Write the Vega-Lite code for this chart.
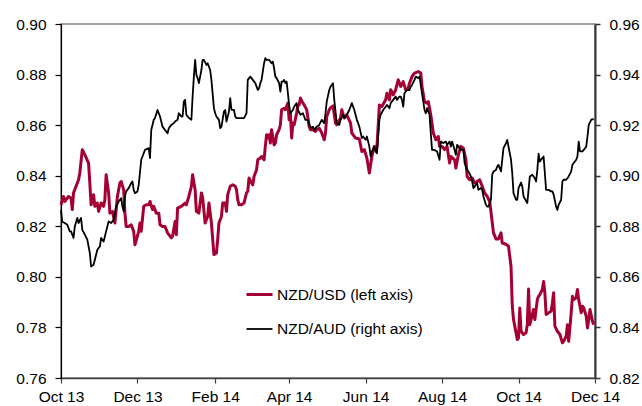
{
  "$schema": "https://vega.github.io/schema/vega-lite/v6.json",
  "width": 534,
  "height": 354,
  "autosize": "none",
  "padding": {"left": 61, "top": 24, "right": 47, "bottom": 28},
  "background": "white",
  "config": {
    "font": "Liberation Sans",
    "view": {"stroke": "#808080", "strokeWidth": 1.5},
    "axis": {"labelFont": "Liberation Sans", "labelFontSize": 15.5, "labelColor": "#000000", "grid": false, "title": null}
  },
  "datasets": {
    "nzdusd": [
      {"date":"2013-10-01","rate":0.8285},{"date":"2013-10-03","rate":0.8318},{"date":"2013-10-04","rate":0.8298},{"date":"2013-10-07","rate":0.8318},{"date":"2013-10-09","rate":0.8312},{"date":"2013-10-10","rate":0.8266},{"date":"2013-10-11","rate":0.8332},{"date":"2013-10-15","rate":0.8384},{"date":"2013-10-16","rate":0.8411},{"date":"2013-10-18","rate":0.8503},{"date":"2013-10-20","rate":0.8483},{"date":"2013-10-23","rate":0.8450},{"date":"2013-10-24","rate":0.8371},{"date":"2013-10-25","rate":0.8285},{"date":"2013-10-27","rate":0.8325},{"date":"2013-10-28","rate":0.8279},{"date":"2013-10-30","rate":0.8292},{"date":"2013-10-31","rate":0.8259},
      {"date":"2013-11-02","rate":0.8292},{"date":"2013-11-04","rate":0.8279},{"date":"2013-11-05","rate":0.8305},{"date":"2013-11-06","rate":0.8404},{"date":"2013-11-08","rate":0.8332},{"date":"2013-11-09","rate":0.8252},{"date":"2013-11-11","rate":0.8259},{"date":"2013-11-13","rate":0.8213},{"date":"2013-11-15","rate":0.8318},{"date":"2013-11-17","rate":0.8371},{"date":"2013-11-18","rate":0.8377},{"date":"2013-11-20","rate":0.8344},{"date":"2013-11-21","rate":0.8252},{"date":"2013-11-22","rate":0.8199},{"date":"2013-11-24","rate":0.8199},{"date":"2013-11-26","rate":0.8206},{"date":"2013-11-28","rate":0.8180},{"date":"2013-11-29","rate":0.8127},
      {"date":"2013-12-02","rate":0.8180},{"date":"2013-12-03","rate":0.8213},{"date":"2013-12-04","rate":0.8180},{"date":"2013-12-06","rate":0.8279},{"date":"2013-12-08","rate":0.8285},{"date":"2013-12-10","rate":0.8285},{"date":"2013-12-11","rate":0.8298},{"date":"2013-12-13","rate":0.8266},{"date":"2013-12-14","rate":0.8279},{"date":"2013-12-16","rate":0.8252},{"date":"2013-12-18","rate":0.8252},{"date":"2013-12-19","rate":0.8206},{"date":"2013-12-21","rate":0.8199},{"date":"2013-12-23","rate":0.8199},{"date":"2013-12-25","rate":0.8174},{"date":"2013-12-28","rate":0.8154},{"date":"2013-12-29","rate":0.8160},{"date":"2013-12-31","rate":0.8219},
      {"date":"2014-01-01","rate":0.8167},{"date":"2014-01-02","rate":0.8272},{"date":"2014-01-05","rate":0.8279},{"date":"2014-01-08","rate":0.8292},{"date":"2014-01-09","rate":0.8285},{"date":"2014-01-11","rate":0.8318},{"date":"2014-01-13","rate":0.8358},{"date":"2014-01-14","rate":0.8404},{"date":"2014-01-16","rate":0.8344},{"date":"2014-01-17","rate":0.8259},{"date":"2014-01-19","rate":0.8252},{"date":"2014-01-21","rate":0.8332},{"date":"2014-01-22","rate":0.8312},{"date":"2014-01-24","rate":0.8213},{"date":"2014-01-26","rate":0.8239},{"date":"2014-01-27","rate":0.8292},{"date":"2014-01-29","rate":0.8213},{"date":"2014-01-31","rate":0.8088},
      {"date":"2014-02-02","rate":0.8094},{"date":"2014-02-03","rate":0.8147},{"date":"2014-02-04","rate":0.8213},{"date":"2014-02-06","rate":0.8239},{"date":"2014-02-07","rate":0.8292},{"date":"2014-02-09","rate":0.8292},{"date":"2014-02-10","rate":0.8259},{"date":"2014-02-11","rate":0.8325},{"date":"2014-02-13","rate":0.8358},{"date":"2014-02-15","rate":0.8364},{"date":"2014-02-17","rate":0.8358},{"date":"2014-02-18","rate":0.8344},{"date":"2014-02-19","rate":0.8305},{"date":"2014-02-20","rate":0.8285},{"date":"2014-02-22","rate":0.8285},{"date":"2014-02-24","rate":0.8292},{"date":"2014-02-26","rate":0.8332},{"date":"2014-02-27","rate":0.8338},{"date":"2014-02-28","rate":0.8391},
      {"date":"2014-03-02","rate":0.8371},{"date":"2014-03-03","rate":0.8364},{"date":"2014-03-04","rate":0.8397},{"date":"2014-03-06","rate":0.8424},{"date":"2014-03-07","rate":0.8463},{"date":"2014-03-09","rate":0.8470},{"date":"2014-03-10","rate":0.8476},{"date":"2014-03-12","rate":0.8463},{"date":"2014-03-13","rate":0.8516},{"date":"2014-03-14","rate":0.8562},{"date":"2014-03-15","rate":0.8549},{"date":"2014-03-16","rate":0.8562},{"date":"2014-03-17","rate":0.8529},{"date":"2014-03-18","rate":0.8582},{"date":"2014-03-20","rate":0.8522},{"date":"2014-03-21","rate":0.8529},{"date":"2014-03-22","rate":0.8562},{"date":"2014-03-24","rate":0.8582},{"date":"2014-03-25","rate":0.8601},{"date":"2014-03-26","rate":0.8661},{"date":"2014-03-28","rate":0.8667},{"date":"2014-03-29","rate":0.8661},{"date":"2014-03-31","rate":0.8687},
      {"date":"2014-04-01","rate":0.8621},{"date":"2014-04-02","rate":0.8648},{"date":"2014-04-03","rate":0.8549},{"date":"2014-04-04","rate":0.8608},{"date":"2014-04-05","rate":0.8601},{"date":"2014-04-07","rate":0.8648},{"date":"2014-04-08","rate":0.8680},{"date":"2014-04-09","rate":0.8680},{"date":"2014-04-10","rate":0.8707},{"date":"2014-04-12","rate":0.8687},{"date":"2014-04-13","rate":0.8680},{"date":"2014-04-15","rate":0.8661},{"date":"2014-04-17","rate":0.8595},{"date":"2014-04-18","rate":0.8582},{"date":"2014-04-20","rate":0.8582},{"date":"2014-04-22","rate":0.8575},{"date":"2014-04-23","rate":0.8582},{"date":"2014-04-25","rate":0.8588},{"date":"2014-04-27","rate":0.8569},{"date":"2014-04-29","rate":0.8542},{"date":"2014-04-30","rate":0.8569},
      {"date":"2014-05-01","rate":0.8634},{"date":"2014-05-03","rate":0.8661},{"date":"2014-05-04","rate":0.8668},{"date":"2014-05-06","rate":0.8676},{"date":"2014-05-08","rate":0.8608},{"date":"2014-05-09","rate":0.8601},{"date":"2014-05-12","rate":0.8628},{"date":"2014-05-13","rate":0.8661},{"date":"2014-05-15","rate":0.8628},{"date":"2014-05-17","rate":0.8641},{"date":"2014-05-20","rate":0.8608},{"date":"2014-05-21","rate":0.8569},{"date":"2014-05-24","rate":0.8549},{"date":"2014-05-27","rate":0.8545},{"date":"2014-05-29","rate":0.8496},{"date":"2014-05-31","rate":0.8503},
      {"date":"2014-06-02","rate":0.8470},{"date":"2014-06-04","rate":0.8411},{"date":"2014-06-06","rate":0.8476},{"date":"2014-06-08","rate":0.8516},{"date":"2014-06-10","rate":0.8509},{"date":"2014-06-12","rate":0.8680},{"date":"2014-06-14","rate":0.8674},{"date":"2014-06-17","rate":0.8700},{"date":"2014-06-18","rate":0.8726},{"date":"2014-06-20","rate":0.8700},{"date":"2014-06-21","rate":0.8740},{"date":"2014-06-23","rate":0.8720},{"date":"2014-06-25","rate":0.8740},{"date":"2014-06-27","rate":0.8779},{"date":"2014-06-29","rate":0.8753},
      {"date":"2014-07-01","rate":0.8772},{"date":"2014-07-03","rate":0.8740},{"date":"2014-07-05","rate":0.8746},{"date":"2014-07-06","rate":0.8766},{"date":"2014-07-08","rate":0.8792},{"date":"2014-07-10","rate":0.8806},{"date":"2014-07-13","rate":0.8812},{"date":"2014-07-15","rate":0.8806},{"date":"2014-07-16","rate":0.8753},{"date":"2014-07-18","rate":0.8693},{"date":"2014-07-20","rate":0.8687},{"date":"2014-07-21","rate":0.8693},{"date":"2014-07-23","rate":0.8641},{"date":"2014-07-25","rate":0.8569},{"date":"2014-07-27","rate":0.8542},{"date":"2014-07-29","rate":0.8555},{"date":"2014-07-30","rate":0.8516},
      {"date":"2014-08-01","rate":0.8516},{"date":"2014-08-03","rate":0.8503},{"date":"2014-08-05","rate":0.8516},{"date":"2014-08-07","rate":0.8450},{"date":"2014-08-08","rate":0.8476},{"date":"2014-08-11","rate":0.8463},{"date":"2014-08-12","rate":0.8430},{"date":"2014-08-14","rate":0.8483},{"date":"2014-08-16","rate":0.8516},{"date":"2014-08-18","rate":0.8509},{"date":"2014-08-20","rate":0.8463},{"date":"2014-08-21","rate":0.8397},{"date":"2014-08-23","rate":0.8384},{"date":"2014-08-25","rate":0.8391},{"date":"2014-08-27","rate":0.8371},{"date":"2014-08-29","rate":0.8377},{"date":"2014-08-31","rate":0.8384},
      {"date":"2014-09-02","rate":0.8358},{"date":"2014-09-04","rate":0.8332},{"date":"2014-09-06","rate":0.8318},{"date":"2014-09-08","rate":0.8298},{"date":"2014-09-09","rate":0.8258},{"date":"2014-09-11","rate":0.8174},{"date":"2014-09-13","rate":0.8150},{"date":"2014-09-15","rate":0.8150},{"date":"2014-09-17","rate":0.8174},{"date":"2014-09-18","rate":0.8134},{"date":"2014-09-21","rate":0.8129},{"date":"2014-09-23","rate":0.8121},{"date":"2014-09-25","rate":0.8042},{"date":"2014-09-26","rate":0.7886},{"date":"2014-09-27","rate":0.7831},{"date":"2014-09-30","rate":0.7752},
      {"date":"2014-10-01","rate":0.7759},{"date":"2014-10-02","rate":0.7877},{"date":"2014-10-03","rate":0.7785},{"date":"2014-10-05","rate":0.7772},{"date":"2014-10-07","rate":0.7779},{"date":"2014-10-08","rate":0.7811},{"date":"2014-10-09","rate":0.7952},{"date":"2014-10-10","rate":0.7811},{"date":"2014-10-11","rate":0.7831},{"date":"2014-10-13","rate":0.7871},{"date":"2014-10-14","rate":0.7831},{"date":"2014-10-16","rate":0.7910},{"date":"2014-10-17","rate":0.7923},{"date":"2014-10-18","rate":0.7930},{"date":"2014-10-20","rate":0.7950},{"date":"2014-10-21","rate":0.7982},{"date":"2014-10-22","rate":0.7937},{"date":"2014-10-23","rate":0.7851},{"date":"2014-10-25","rate":0.7858},{"date":"2014-10-27","rate":0.7864},{"date":"2014-10-28","rate":0.7897},{"date":"2014-10-29","rate":0.7937},{"date":"2014-10-30","rate":0.7805},
      {"date":"2014-11-01","rate":0.7785},{"date":"2014-11-03","rate":0.7772},{"date":"2014-11-05","rate":0.7739},{"date":"2014-11-06","rate":0.7745},{"date":"2014-11-08","rate":0.7765},{"date":"2014-11-09","rate":0.7811},{"date":"2014-11-10","rate":0.7745},{"date":"2014-11-12","rate":0.7858},{"date":"2014-11-13","rate":0.7923},{"date":"2014-11-14","rate":0.7910},{"date":"2014-11-16","rate":0.7917},{"date":"2014-11-17","rate":0.7950},{"date":"2014-11-18","rate":0.7910},{"date":"2014-11-20","rate":0.7858},{"date":"2014-11-21","rate":0.7884},{"date":"2014-11-22","rate":0.7877},{"date":"2014-11-24","rate":0.7844},{"date":"2014-11-25","rate":0.7798},{"date":"2014-11-26","rate":0.7831},{"date":"2014-11-27","rate":0.7871},{"date":"2014-11-29","rate":0.7824},{"date":"2014-11-30","rate":0.7811}
    ],
    "nzdaud": [
      {"date":"2013-10-01","rate":0.8865},{"date":"2013-10-02","rate":0.8818},{"date":"2013-10-04","rate":0.8813},{"date":"2013-10-06","rate":0.8806},{"date":"2013-10-08","rate":0.8780},{"date":"2013-10-09","rate":0.8780},{"date":"2013-10-11","rate":0.8754},{"date":"2013-10-12","rate":0.8799},{"date":"2013-10-14","rate":0.8833},{"date":"2013-10-15","rate":0.8813},{"date":"2013-10-17","rate":0.8833},{"date":"2013-10-18","rate":0.8786},{"date":"2013-10-20","rate":0.8767},{"date":"2013-10-22","rate":0.8747},{"date":"2013-10-24","rate":0.8694},{"date":"2013-10-25","rate":0.8641},{"date":"2013-10-27","rate":0.8648},{"date":"2013-10-28","rate":0.8668},{"date":"2013-10-30","rate":0.8707},
      {"date":"2013-11-01","rate":0.8720},{"date":"2013-11-02","rate":0.8754},{"date":"2013-11-04","rate":0.8740},{"date":"2013-11-05","rate":0.8760},{"date":"2013-11-06","rate":0.8780},{"date":"2013-11-08","rate":0.8819},{"date":"2013-11-10","rate":0.8813},{"date":"2013-11-12","rate":0.8826},{"date":"2013-11-13","rate":0.8852},{"date":"2013-11-14","rate":0.8878},{"date":"2013-11-16","rate":0.8898},{"date":"2013-11-18","rate":0.8911},{"date":"2013-11-19","rate":0.8878},{"date":"2013-11-20","rate":0.8859},{"date":"2013-11-21","rate":0.8918},{"date":"2013-11-22","rate":0.8938},{"date":"2013-11-24","rate":0.8951},{"date":"2013-11-26","rate":0.8971},{"date":"2013-11-27","rate":0.8977},{"date":"2013-11-28","rate":0.8944},{"date":"2013-11-29","rate":0.8931},
      {"date":"2013-12-01","rate":0.8938},{"date":"2013-12-02","rate":0.8964},{"date":"2013-12-04","rate":0.9063},{"date":"2013-12-06","rate":0.9089},{"date":"2013-12-07","rate":0.9102},{"date":"2013-12-10","rate":0.9109},{"date":"2013-12-11","rate":0.9070},{"date":"2013-12-12","rate":0.9181},{"date":"2013-12-14","rate":0.9221},{"date":"2013-12-15","rate":0.9228},{"date":"2013-12-17","rate":0.9260},{"date":"2013-12-19","rate":0.9234},{"date":"2013-12-21","rate":0.9194},{"date":"2013-12-23","rate":0.9181},{"date":"2013-12-25","rate":0.9168},{"date":"2013-12-26","rate":0.9188},{"date":"2013-12-28","rate":0.9201},{"date":"2013-12-30","rate":0.9208},{"date":"2013-12-31","rate":0.9214},
      {"date":"2014-01-02","rate":0.9221},{"date":"2014-01-03","rate":0.9247},{"date":"2014-01-05","rate":0.9234},{"date":"2014-01-06","rate":0.9234},{"date":"2014-01-07","rate":0.9293},{"date":"2014-01-08","rate":0.9300},{"date":"2014-01-09","rate":0.9241},{"date":"2014-01-11","rate":0.9228},{"date":"2014-01-13","rate":0.9221},{"date":"2014-01-14","rate":0.9313},{"date":"2014-01-15","rate":0.9392},{"date":"2014-01-16","rate":0.9458},{"date":"2014-01-17","rate":0.9399},{"date":"2014-01-18","rate":0.9386},{"date":"2014-01-19","rate":0.9366},{"date":"2014-01-21","rate":0.9418},{"date":"2014-01-22","rate":0.9458},{"date":"2014-01-23","rate":0.9458},{"date":"2014-01-25","rate":0.9438},{"date":"2014-01-26","rate":0.9445},{"date":"2014-01-28","rate":0.9418},{"date":"2014-01-29","rate":0.9379},{"date":"2014-01-31","rate":0.9267},
      {"date":"2014-02-01","rate":0.9247},{"date":"2014-02-02","rate":0.9234},{"date":"2014-02-04","rate":0.9221},{"date":"2014-02-05","rate":0.9188},{"date":"2014-02-06","rate":0.9194},{"date":"2014-02-08","rate":0.9254},{"date":"2014-02-09","rate":0.9260},{"date":"2014-02-10","rate":0.9214},{"date":"2014-02-12","rate":0.9254},{"date":"2014-02-13","rate":0.9307},{"date":"2014-02-14","rate":0.9260},{"date":"2014-02-16","rate":0.9260},{"date":"2014-02-17","rate":0.9234},{"date":"2014-02-18","rate":0.9228},{"date":"2014-02-21","rate":0.9228},{"date":"2014-02-24","rate":0.9228},{"date":"2014-02-26","rate":0.9247},{"date":"2014-02-27","rate":0.9379},
      {"date":"2014-03-01","rate":0.9392},{"date":"2014-03-03","rate":0.9379},{"date":"2014-03-05","rate":0.9366},{"date":"2014-03-07","rate":0.9339},{"date":"2014-03-08","rate":0.9346},{"date":"2014-03-09","rate":0.9366},{"date":"2014-03-10","rate":0.9379},{"date":"2014-03-12","rate":0.9445},{"date":"2014-03-13","rate":0.9465},{"date":"2014-03-14","rate":0.9458},{"date":"2014-03-16","rate":0.9458},{"date":"2014-03-18","rate":0.9445},{"date":"2014-03-19","rate":0.9451},{"date":"2014-03-20","rate":0.9425},{"date":"2014-03-21","rate":0.9392},{"date":"2014-03-22","rate":0.9386},{"date":"2014-03-24","rate":0.9366},{"date":"2014-03-25","rate":0.9333},{"date":"2014-03-26","rate":0.9372},{"date":"2014-03-27","rate":0.9372},{"date":"2014-03-28","rate":0.9379},{"date":"2014-03-29","rate":0.9366},{"date":"2014-03-30","rate":0.9372},
      {"date":"2014-04-01","rate":0.9280},{"date":"2014-04-02","rate":0.9247},{"date":"2014-04-04","rate":0.9260},{"date":"2014-04-05","rate":0.9273},{"date":"2014-04-07","rate":0.9287},{"date":"2014-04-08","rate":0.9260},{"date":"2014-04-10","rate":0.9241},{"date":"2014-04-12","rate":0.9247},{"date":"2014-04-14","rate":0.9221},{"date":"2014-04-16","rate":0.9221},{"date":"2014-04-17","rate":0.9201},{"date":"2014-04-19","rate":0.9188},{"date":"2014-04-20","rate":0.9194},{"date":"2014-04-21","rate":0.9181},{"date":"2014-04-23","rate":0.9194},{"date":"2014-04-25","rate":0.9201},{"date":"2014-04-27","rate":0.9221},{"date":"2014-04-29","rate":0.9208},{"date":"2014-04-30","rate":0.9247},
      {"date":"2014-05-01","rate":0.9293},{"date":"2014-05-03","rate":0.9339},{"date":"2014-05-04","rate":0.9352},{"date":"2014-05-06","rate":0.9366},{"date":"2014-05-07","rate":0.9300},{"date":"2014-05-09","rate":0.9208},{"date":"2014-05-11","rate":0.9201},{"date":"2014-05-12","rate":0.9221},{"date":"2014-05-14","rate":0.9241},{"date":"2014-05-15","rate":0.9228},{"date":"2014-05-17","rate":0.9241},{"date":"2014-05-19","rate":0.9260},{"date":"2014-05-21","rate":0.9287},{"date":"2014-05-23","rate":0.9260},{"date":"2014-05-25","rate":0.9221},{"date":"2014-05-27","rate":0.9194},{"date":"2014-05-29","rate":0.9149},{"date":"2014-05-30","rate":0.9155},
      {"date":"2014-06-01","rate":0.9142},{"date":"2014-06-02","rate":0.9155},{"date":"2014-06-04","rate":0.9115},{"date":"2014-06-05","rate":0.9076},{"date":"2014-06-06","rate":0.9096},{"date":"2014-06-08","rate":0.9115},{"date":"2014-06-09","rate":0.9096},{"date":"2014-06-10","rate":0.9089},{"date":"2014-06-12","rate":0.9221},{"date":"2014-06-13","rate":0.9241},{"date":"2014-06-15","rate":0.9260},{"date":"2014-06-17","rate":0.9273},{"date":"2014-06-18","rate":0.9280},{"date":"2014-06-20","rate":0.9267},{"date":"2014-06-21","rate":0.9287},{"date":"2014-06-23","rate":0.9300},{"date":"2014-06-25","rate":0.9313},{"date":"2014-06-26","rate":0.9300},{"date":"2014-06-28","rate":0.9313},{"date":"2014-06-29","rate":0.9313},{"date":"2014-06-30","rate":0.9300},
      {"date":"2014-07-01","rate":0.9273},{"date":"2014-07-02","rate":0.9326},{"date":"2014-07-04","rate":0.9339},{"date":"2014-07-06","rate":0.9339},{"date":"2014-07-07","rate":0.9352},{"date":"2014-07-08","rate":0.9359},{"date":"2014-07-10","rate":0.9379},{"date":"2014-07-11","rate":0.9392},{"date":"2014-07-13","rate":0.9386},{"date":"2014-07-14","rate":0.9392},{"date":"2014-07-16","rate":0.9326},{"date":"2014-07-18","rate":0.9260},{"date":"2014-07-19","rate":0.9247},{"date":"2014-07-20","rate":0.9267},{"date":"2014-07-22","rate":0.9241},{"date":"2014-07-23","rate":0.9168},{"date":"2014-07-24","rate":0.9102},{"date":"2014-07-26","rate":0.9102},{"date":"2014-07-28","rate":0.9096},{"date":"2014-07-30","rate":0.9063},{"date":"2014-07-31","rate":0.9135},
      {"date":"2014-08-02","rate":0.9129},{"date":"2014-08-04","rate":0.9135},{"date":"2014-08-05","rate":0.9122},{"date":"2014-08-07","rate":0.9135},{"date":"2014-08-08","rate":0.9115},{"date":"2014-08-09","rate":0.9135},{"date":"2014-08-11","rate":0.9102},{"date":"2014-08-12","rate":0.9083},{"date":"2014-08-13","rate":0.9122},{"date":"2014-08-15","rate":0.9109},{"date":"2014-08-16","rate":0.9102},{"date":"2014-08-18","rate":0.9102},{"date":"2014-08-19","rate":0.9050},{"date":"2014-08-21","rate":0.9023},{"date":"2014-08-22","rate":0.9017},{"date":"2014-08-24","rate":0.8997},{"date":"2014-08-25","rate":0.8977},{"date":"2014-08-26","rate":0.8951},{"date":"2014-08-28","rate":0.8964},{"date":"2014-08-29","rate":0.8971},{"date":"2014-08-30","rate":0.8944},
      {"date":"2014-09-01","rate":0.8951},{"date":"2014-09-02","rate":0.8944},{"date":"2014-09-03","rate":0.8918},{"date":"2014-09-05","rate":0.8885},{"date":"2014-09-06","rate":0.8878},{"date":"2014-09-07","rate":0.8878},{"date":"2014-09-09","rate":0.8905},{"date":"2014-09-10","rate":0.9004},{"date":"2014-09-11","rate":0.9017},{"date":"2014-09-13","rate":0.9023},{"date":"2014-09-14","rate":0.9036},{"date":"2014-09-15","rate":0.9043},{"date":"2014-09-17","rate":0.9017},{"date":"2014-09-18","rate":0.9063},{"date":"2014-09-19","rate":0.9109},{"date":"2014-09-21","rate":0.9129},{"date":"2014-09-22","rate":0.9142},{"date":"2014-09-23","rate":0.9115},{"date":"2014-09-25","rate":0.9063},{"date":"2014-09-26","rate":0.9010},{"date":"2014-09-27","rate":0.8931},{"date":"2014-09-29","rate":0.8905},{"date":"2014-09-30","rate":0.8905},
      {"date":"2014-10-01","rate":0.8951},{"date":"2014-10-03","rate":0.8973},{"date":"2014-10-04","rate":0.8957},{"date":"2014-10-05","rate":0.8918},{"date":"2014-10-08","rate":0.8892},{"date":"2014-10-09","rate":0.8944},{"date":"2014-10-10","rate":0.8997},{"date":"2014-10-12","rate":0.9004},{"date":"2014-10-14","rate":0.8990},{"date":"2014-10-15","rate":0.8977},{"date":"2014-10-16","rate":0.9023},{"date":"2014-10-17","rate":0.9087},{"date":"2014-10-18","rate":0.9056},{"date":"2014-10-19","rate":0.9063},{"date":"2014-10-20","rate":0.9070},{"date":"2014-10-21","rate":0.9076},{"date":"2014-10-23","rate":0.8944},{"date":"2014-10-25","rate":0.8944},{"date":"2014-10-27","rate":0.8938},{"date":"2014-10-28","rate":0.8938},{"date":"2014-10-29","rate":0.8925},{"date":"2014-10-31","rate":0.8878},
      {"date":"2014-11-01","rate":0.8865},{"date":"2014-11-02","rate":0.8885},{"date":"2014-11-04","rate":0.8905},{"date":"2014-11-05","rate":0.8977},{"date":"2014-11-06","rate":0.8984},{"date":"2014-11-08","rate":0.8984},{"date":"2014-11-09","rate":0.8990},{"date":"2014-11-10","rate":0.8997},{"date":"2014-11-12","rate":0.9017},{"date":"2014-11-13","rate":0.9043},{"date":"2014-11-14","rate":0.9050},{"date":"2014-11-16","rate":0.9063},{"date":"2014-11-17","rate":0.9076},{"date":"2014-11-18","rate":0.9135},{"date":"2014-11-19","rate":0.9096},{"date":"2014-11-21","rate":0.9096},{"date":"2014-11-22","rate":0.9102},{"date":"2014-11-24","rate":0.9115},{"date":"2014-11-25","rate":0.9155},{"date":"2014-11-26","rate":0.9201},{"date":"2014-11-28","rate":0.9221},{"date":"2014-11-29","rate":0.9224},{"date":"2014-11-30","rate":0.9221}
    ]
  },
  "encoding": {
    "x": {
      "field": "date",
      "type": "temporal",
      "scale": {
        "type": "utc",
        "domain": [
          {"year": 2013, "month": 10, "date": 1, "utc": true},
          {"year": 2014, "month": 12, "date": 1, "utc": true}
        ]
      },
      "axis": {
        "values": [
          {"year": 2013, "month": 10, "date": 1, "utc": true},
          {"year": 2013, "month": 12, "date": 1, "utc": true},
          {"year": 2014, "month": 2, "date": 1, "utc": true},
          {"year": 2014, "month": 4, "date": 1, "utc": true},
          {"year": 2014, "month": 6, "date": 1, "utc": true},
          {"year": 2014, "month": 8, "date": 1, "utc": true},
          {"year": 2014, "month": 10, "date": 1, "utc": true},
          {"year": 2014, "month": 12, "date": 1, "utc": true}
        ],
        "labelExpr": "utcFormat(datum.value, '%b %y')",
        "domainColor": "#404040",
        "domainWidth": 1.5,
        "tickColor": "#404040",
        "tickWidth": 1.2,
        "tickSize": 5,
        "labelPadding": 6,
        "labelFlush": false,
        "labelOverlap": false
      }
    }
  },
  "layer": [
    {
      "data": {"name": "nzdusd"},
      "mark": {"type": "line", "interpolate": "linear", "strokeJoin": "round"},
      "encoding": {
        "y": {
          "field": "rate",
          "type": "quantitative",
          "scale": {"domain": [0.76, 0.90], "zero": false, "nice": false},
          "axis": {
            "orient": "left",
            "values": [0.76, 0.78, 0.80, 0.82, 0.84, 0.86, 0.88, 0.90],
            "format": ".2f",
            "domainColor": "#000000",
            "domainWidth": 1.2,
            "tickColor": "#000000",
            "tickWidth": 1.2,
            "tickSize": 6,
            "labelPadding": 9
          }
        },
        "color": {
          "datum": "NZD/USD",
          "type": "nominal",
          "scale": {"domain": ["NZD/USD", "NZD/AUD"], "range": ["#a50034", "#000000"]},
          "legend": {
            "title": null,
            "orient": "none",
            "legendX": 184,
            "legendY": 256,
            "padding": 0,
            "symbolType": "stroke",
            "symbolSize": 676,
            "symbolStrokeWidth": 3,
            "labelFont": "Liberation Sans",
            "labelFontSize": 15.5,
            "labelColor": "#000000",
            "labelOffset": 3,
            "rowPadding": 12,
            "labelExpr": "datum.label == 'NZD/USD' ? 'NZD/USD (left axis)' : 'NZD/AUD (right axis)'"
          }
        },
        "strokeWidth": {
          "datum": "NZD/USD",
          "type": "nominal",
          "scale": {"domain": ["NZD/USD", "NZD/AUD"], "range": [3, 1.8]}
        }
      }
    },
    {
      "data": {"name": "nzdaud"},
      "mark": {"type": "line", "interpolate": "linear", "strokeJoin": "round"},
      "encoding": {
        "y": {
          "field": "rate",
          "type": "quantitative",
          "scale": {"domain": [0.82, 0.96], "zero": false, "nice": false},
          "axis": {
            "orient": "right",
            "values": [0.82, 0.84, 0.86, 0.88, 0.90, 0.92, 0.94, 0.96],
            "format": ".2f",
            "domainColor": "#333333",
            "domainWidth": 2,
            "tickColor": "#333333",
            "tickWidth": 1.5,
            "tickSize": 5,
            "labelPadding": 9
          }
        },
        "color": {"datum": "NZD/AUD", "type": "nominal"},
        "strokeWidth": {"datum": "NZD/AUD", "type": "nominal"}
      }
    }
  ],
  "resolve": {"scale": {"y": "independent"}, "axis": {"y": "independent"}}
}
